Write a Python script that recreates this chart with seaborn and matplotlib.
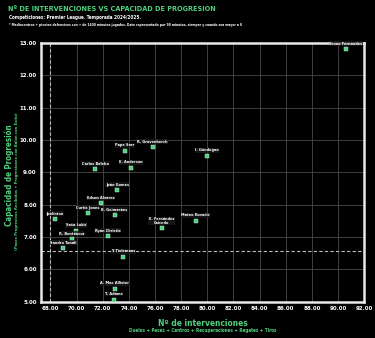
import matplotlib
matplotlib.use("Agg")
import matplotlib.pyplot as plt
import seaborn as sns
import pandas as pd

players = ["Bruno Fernandes", "Pape Sarr", "R. Gravenberch", "I. Gündoğan", "Carlos Baleba",
           "E. Anderson", "João Gomes", "Edson Álvarez", "Curtis Jones", "B. Guimarães",
           "E. Fernández\nCaicedo", "Mateo Kovačić", "Saša Lukić", "R. Bentancur", "Ryan Christie",
           "Sandro Tonali", "Joelinton", "Y. Tielemans", "A. Mac Allister", "T. Adams"]
intervenciones = [90.6, 73.72, 75.81, 79.99, 71.43,
                  74.15, 73.11, 71.84, 70.87, 72.91,
                  76.50, 79.10, 69.95, 69.67, 72.37,
                  68.98, 68.32, 73.57, 72.93, 72.85]
progresion = [12.81, 9.67, 9.78, 9.51, 9.10,
              9.14, 8.45, 8.04, 7.74, 7.68,
              7.27, 7.50, 7.19, 6.94, 7.03,
              6.66, 7.56, 6.39, 5.40, 5.07]
ref_x = 68.0
ref_y = 6.58
x_ticks = [68, 70, 72, 74, 76, 78, 80, 82, 84, 86, 88, 90, 92]
y_ticks = [5, 6, 7, 8, 9, 10, 11, 12, 13]

df = pd.DataFrame({"player": players, "x": intervenciones, "y": progresion})

sns.set_theme(style="dark")
plt.rcParams['font.family'] = ['DejaVu Sans']
plt.rcParams['font.stretch'] = 'condensed'
GREEN = "#4fd07f"

fig = plt.figure(figsize=(3.75, 3.38), dpi=100, facecolor="black")
ax = fig.add_axes([0.109, 0.107, 0.862, 0.766])
ax.set_facecolor("black")

ax.set_xlim(67.27, 92.0)
ax.set_ylim(5.0, 13.0)
ax.set_xticks(x_ticks)
ax.set_yticks(y_ticks)
ax.set_xticklabels([f"{t:.2f}" for t in x_ticks])
ax.set_yticklabels([f"{t:.2f}" for t in y_ticks])
ax.tick_params(colors="white", labelsize=4.4, length=0, pad=3.0)
for lab in ax.get_xticklabels() + ax.get_yticklabels():
    lab.set_fontweight("bold")

ax.grid(True, color="#4a4a4a", linewidth=0.6, linestyle="-")
ax.set_axisbelow(True)
for s in ax.spines.values():
    s.set_visible(True)
    s.set_color("#e8e8e8")
    s.set_linewidth(1.8)

ax.axvline(ref_x, color="#bbbbbb", linestyle=(0, (3, 2)), linewidth=0.8, zorder=1)
ax.axhline(ref_y, color="#bbbbbb", linestyle=(0, (3, 2)), linewidth=0.8, zorder=1)

sns.scatterplot(data=df, x="x", y="y", ax=ax, marker="s", s=8, color=GREEN,
                edgecolor="#c8f5d8", linewidth=0.3, zorder=3, legend=False)

for _, r in df.iterrows():
    ax.annotate(r["player"], (r["x"], r["y"]), xytext=(0, 2.5), textcoords="offset points",
                ha="center", va="bottom", fontsize=2.8, color="white", fontweight="bold",
                linespacing=0.9, zorder=4,
                bbox=dict(boxstyle="square,pad=0.1", fc="#1a1a1a", ec="none", alpha=0.8))

ax.set_xlabel("")
ax.set_ylabel("")

fig.text(0.021, 0.975, "Nº DE INTERVENCIONES VS CAPACIDAD DE PROGRESIÓN", color=GREEN,
         fontsize=5.2, fontweight="bold", va="center", ha="left")
fig.text(0.024, 0.948, "Competiciones: Premier League. Temporada 2024/2025.", color="white",
         fontsize=3.3, fontweight="bold", va="center", ha="left")
fig.text(0.024, 0.926, "* Mediocentros + pivotes defensivos con + de 1400 minutos jugados. Dato representado por 90 minutos, siempre y cuando sea mayor a 0",
         color="white", fontsize=2.4, fontweight="bold", va="center", ha="left")

fig.text(0.54, 0.044, "Nº de intervenciones", color=GREEN, fontsize=6, fontweight="bold",
         ha="center", va="center")
fig.text(0.54, 0.022, "Duelos + Pases + Centros + Recuperaciones + Regates + Tiros", color=GREEN,
         fontsize=3.3, fontweight="bold", ha="center", va="center")
fig.text(0.025, 0.482, "Capacidad de Progresión", color=GREEN, fontsize=5.8, fontweight="bold",
         ha="center", va="center", rotation=90)
fig.text(0.045, 0.465, "(Pases Progresivos Recibidos + Progresiones con Balón con Éxito)", color=GREEN,
         fontsize=3.0, fontweight="bold", ha="center", va="center", rotation=90)

fig.savefig("out.png", dpi=100, facecolor="black")
